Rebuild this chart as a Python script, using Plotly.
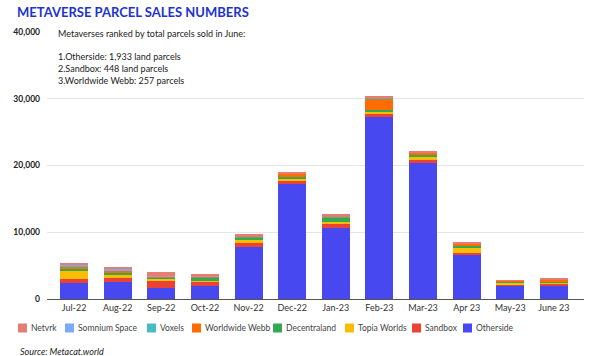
import plotly.graph_objects as go

months = ["Jul-22", "Aug-22", "Sep-22", "Oct-22", "Nov-22", "Dec-22", "Jan-23",
          "Feb-23", "Mar-23", "Apr 23", "May-23", "June 23"]

otherside = [2400, 2500, 1650, 1950, 7800, 17200, 10600, 27300, 20400, 6600, 1950, 1933]
sandbox = [600, 700, 1050, 600, 600, 450, 600, 350, 400, 350, 250, 448]
topia_worlds = [1200, 450, 300, 150, 400, 300, 300, 350, 400, 700, 250, 150]
decentraland = [300, 300, 100, 450, 300, 300, 600, 300, 350, 300, 100, 120]
worldwide_webb = [400, 300, 300, 150, 300, 500, 300, 1800, 350, 300, 150, 257]
voxels = [50, 50, 30, 30, 50, 50, 50, 30, 50, 30, 20, 20]
somnium_space = [100, 250, 50, 50, 50, 50, 50, 30, 50, 30, 20, 30]
netvrk = [350, 250, 550, 400, 250, 250, 250, 150, 150, 100, 100, 80]

y_ticks = [0, 10000, 20000, 30000, 40000]
y_tick_labels = ["0", "10,000", "20,000", "30,000", "40,000"]

series = [
    ("Otherside", otherside, "#4848f0"),
    ("Sandbox", sandbox, "#ea4335"),
    ("Topia Worlds", topia_worlds, "#fbbc04"),
    ("Decentraland", decentraland, "#34a853"),
    ("Worldwide Webb", worldwide_webb, "#ff6d01"),
    ("Voxels", voxels, "#46bdc6"),
    ("Somnium Space", somnium_space, "#7baaf7"),
    ("Netvrk", netvrk, "#e67c73"),
]

FONT = "Lato"
W, H = 600, 356
L, R, T, B = 47, 16, 32, 57
PW, PH = W - L - R, H - T - B

fig = go.Figure()
for name, vals, col in series:
    fig.add_trace(go.Bar(x=months, y=vals, name=name, marker=dict(color=col, line=dict(width=0))))

fig.update_layout(
    width=W, height=H,
    barmode="stack", bargap=0.36,
    plot_bgcolor="white", paper_bgcolor="white",
    margin=dict(l=L, r=R, t=T, b=B, autoexpand=False),
    font=dict(family=FONT, size=10, color="#333333"),
    xaxis=dict(range=[-0.62, 11.69], showgrid=False, showline=True, linecolor="#555555",
               linewidth=1, ticks="", tickfont=dict(size=9, color="#333333")),
    yaxis=dict(range=[0, 40000], tickvals=y_ticks, ticktext=y_tick_labels,
               showgrid=True, gridcolor="#e6e6e6", zeroline=False,
               tickfont=dict(size=8.5, color="#222222", weight="bold"), ticklabelstandoff=6),
    showlegend=False,
)

# legend (drawn manually to match the compact spacing), reversed stack order
legend_x = [18, 65, 147, 192, 273, 345, 412, 463]
legend_y = 328
for (name, vals, col), lx in zip(reversed(series), legend_x):
    fig.add_shape(type="rect", xref="paper", yref="paper",
                  x0=(lx - L) / PW, x1=(lx + 9 - L) / PW,
                  y0=(H - B - (legend_y + 4.5)) / PH, y1=(H - B - (legend_y - 4.5)) / PH,
                  fillcolor=col, line=dict(width=0))
    fig.add_annotation(text=name, xref="paper", yref="paper",
                       x=(lx + 11 - L) / PW, y=(H - B - legend_y) / PH,
                       xanchor="left", yanchor="middle", showarrow=False,
                       font=dict(family=FONT, size=8.5, color="#444444"))

fig.add_annotation(text="METAVERSE PARCEL SALES NUMBERS", xref="paper", yref="paper",
                   x=(15 - L) / PW, y=(H - B - 12) / PH, xanchor="left", yanchor="middle",
                   showarrow=False,
                   font=dict(family=FONT, size=13, color="#2233cc", weight="bold"))

fig.add_annotation(
    text="Metaverses ranked by total parcels sold in June:<br><br>1.Otherside: 1,933 land parcels<br>"
         "2.Sandbox: 448 land parcels<br>3.Worldwide Webb: 257 parcels",
    xref="paper", yref="paper", x=(56 - L) / PW, y=(H - B - 26) / PH, xanchor="left", yanchor="top",
    align="left", showarrow=False, font=dict(family=FONT, size=9, color="#222222"))

fig.add_annotation(text="<i>Source: Metacat.world</i>", xref="paper", yref="paper",
                   x=(18 - L) / PW, y=(H - B - 351) / PH, xanchor="left", yanchor="middle",
                   showarrow=False, font=dict(family=FONT, size=9, color="#222222"))

fig.write_html("out.html", config={"displayModeBar": False},
               post_script="document.body.style.margin='0';document.body.style.overflow='hidden';")
